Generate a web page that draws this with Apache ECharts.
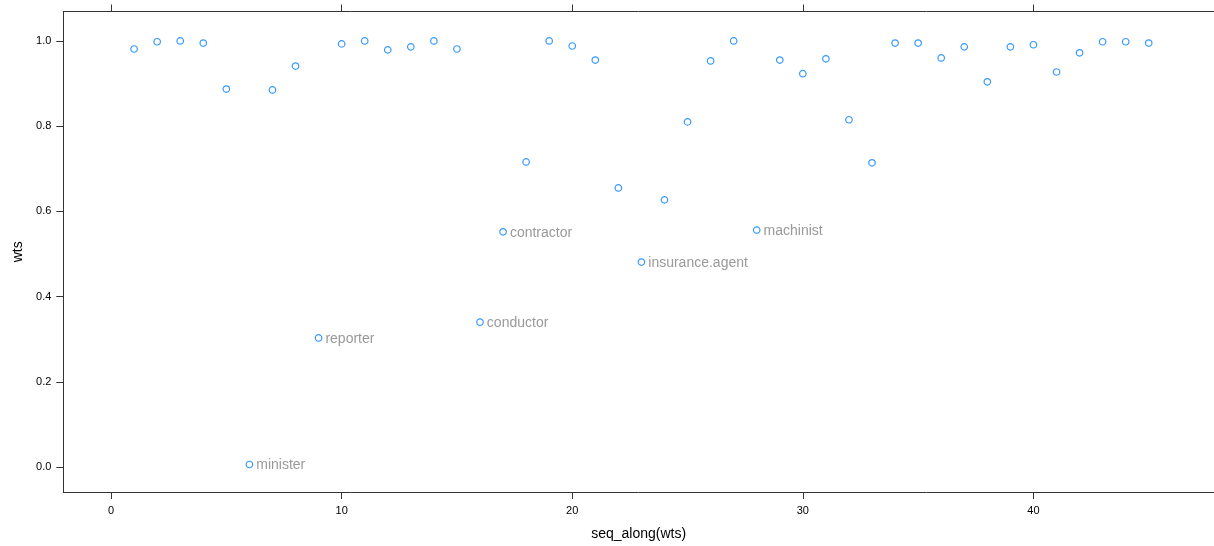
<!DOCTYPE html>
<html>
<head>
<meta charset="utf-8">
<script src="https://cdn.jsdelivr.net/npm/echarts@6/dist/echarts.min.js"></script>
<style>
  html, body { margin: 0; padding: 0; background: #fff; }
  #chart { width: 1214px; height: 546px; }
</style>
</head>
<body>
<div id="chart"></div>
<script>
// Robust-regression weights for each occupation, in data order
const occupations = [
  'accountant', 'pilot', 'architect', 'author', 'chemist', 'minister', 'professor',
  'dentist', 'reporter', 'engineer', 'undertaker', 'lawyer', 'physician',
  'welfare.worker', 'teacher', 'conductor', 'contractor', 'factory.owner',
  'store.manager', 'banker', 'bookkeeper', 'mail.carrier', 'insurance.agent',
  'store.clerk', 'carpenter', 'electrician', 'RR.engineer', 'machinist',
  'auto.repairman', 'plumber', 'gas.stn.attendant', 'coal.miner',
  'streetcar.motorman', 'taxi.driver', 'truck.driver', 'machine.operator',
  'barber', 'bartender', 'shoe.shiner', 'cook', 'soda.clerk', 'watchman',
  'janitor', 'policeman', 'waiter'
];
const wts = [
  0.981, 0.998, 1.000, 0.995, 0.887, 0.006, 0.885, 0.941, 0.303, 0.993,
  1.000, 0.979, 0.986, 1.000, 0.981, 0.340, 0.552, 0.716, 1.000, 0.988,
  0.955, 0.655, 0.481, 0.627, 0.810, 0.953, 1.000, 0.556, 0.955, 0.923,
  0.958, 0.815, 0.714, 0.995, 0.995, 0.960, 0.986, 0.904, 0.986, 0.991,
  0.927, 0.972, 0.998, 0.998, 0.995
];
const labelCutoff = 0.6;
const xTicks = [0, 10, 20, 30, 40];
const yTicks = [0.0, 0.2, 0.4, 0.6, 0.8, 1.0];

const points = wts.map((w, i) => [i + 1, w, occupations[i]]);

const FONT = '"Liberation Sans", Arial, Helvetica, sans-serif';
const chart = echarts.init(document.getElementById('chart'));

const frameStyle = { color: '#333', width: 1 };
// The panel frame is open on the right: only top, bottom and left edges are drawn
const xCommon = {
  type: 'value',
  min: -2.07,
  max: 47.83,
  splitLine: { show: false },
  axisLine: { show: true, onZero: false, lineStyle: frameStyle },
  axisTick: { show: true, inside: false, length: 7, customValues: xTicks, lineStyle: frameStyle }
};

chart.setOption({
  animation: false,
  backgroundColor: '#ffffff',
  grid: { left: 63.3, right: 0, top: 11.5, bottom: 52.7, show: false },
  xAxis: [
    Object.assign({}, xCommon, {
      position: 'bottom',
      name: 'seq_along(wts)',
      nameLocation: 'middle',
      nameGap: 35,
      nameTextStyle: { fontFamily: FONT, fontSize: 14, color: '#000' },
      axisLabel: { show: true, customValues: xTicks, margin: 13, fontFamily: FONT, fontSize: 11, color: '#000' }
    }),
    Object.assign({}, xCommon, {
      position: 'top',
      axisLabel: { show: false }
    })
  ],
  yAxis: {
    type: 'value',
    min: -0.0585,
    max: 1.069,
    position: 'left',
    name: 'wts',
    nameLocation: 'middle',
    nameGap: 38,
    nameRotate: 90,
    nameTextStyle: { fontFamily: FONT, fontSize: 14, color: '#000' },
    splitLine: { show: false },
    axisLine: { show: true, onZero: false, lineStyle: frameStyle },
    axisTick: { show: true, inside: false, length: 7, customValues: yTicks, lineStyle: frameStyle },
    axisLabel: {
      show: true, customValues: yTicks, margin: 12,
      fontFamily: FONT, fontSize: 11, color: '#000',
      formatter: v => v.toFixed(1)
    }
  },
  series: [{
    type: 'scatter',
    xAxisIndex: 0,
    data: points,
    symbol: 'circle',
    symbolSize: 6.5,
    itemStyle: { color: '#ffffff', borderColor: '#0080ff', borderWidth: 1.2 },
    label: {
      show: true,
      position: 'right',
      distance: 3,
      offset: [0, 1],
      fontFamily: FONT,
      fontSize: 14,
      color: '#808080',
      formatter: p => (p.value[1] < labelCutoff ? p.value[2] : '')
    },
    emphasis: { disabled: true }
  }]
});
</script>
</body>
</html>
